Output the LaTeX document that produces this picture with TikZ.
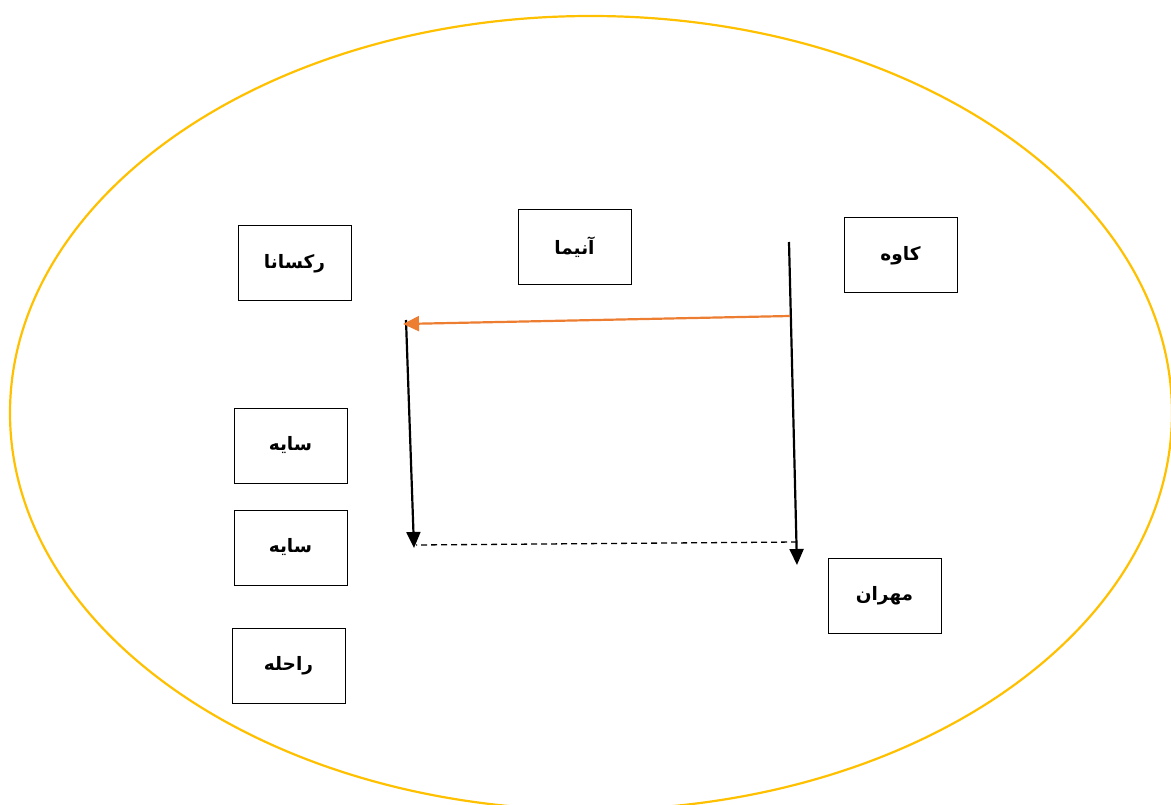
\documentclass[tikz,border=0pt]{standalone}
\usepackage{fontspec}
\usetikzlibrary{arrows.meta}
\TeXXeTstate=1
\newfontfamily\arabicfont[Script=Arabic]{DejaVu Sans}
\definecolor{ringgold}{HTML}{FFC000}
\definecolor{msgorange}{HTML}{ED7D31}
\newcommand{\fa}[1]{{\arabicfont\bfseries\beginR #1\endR}}
\tikzset{
  namebox/.style={draw=black, line width=1pt, minimum width=113pt, minimum height=75pt,
    inner sep=0pt, font=\fontsize{18.5}{22}\selectfont},
  lifeline/.style={draw=black, line width=2.2pt, -{Triangle[length=16pt,width=14pt]}},
  message/.style={draw=msgorange, line width=2.2pt, -{Triangle[length=16pt,width=15pt]}},
  reply/.style={draw=black, line width=1.3pt, dash pattern=on 6pt off 4pt}
}
\begin{document}
\begin{tikzpicture}[x=1pt,y=-1pt]
  \useasboundingbox (0,0) rectangle (1171,805);
  \clip (0,0) rectangle (1171,805);
  % enclosing ellipse
  \draw[ringgold, line width=2.2pt] (591,413) ellipse [x radius=581, y radius=397];

  % participants
  \node[namebox] (roxana) at (294.5,263.5) {\fa{رکسانا}};
  \node[namebox] (anima)  at (574.5,247.5) {\fa{آنیما}};
  \node[namebox] (kaveh)  at (900.5,255.5) {\fa{کاوه}};
  \node[namebox] (saye1)  at (290.5,445.5) {\fa{سایه}};
  \node[namebox] (saye2)  at (290.5,547.5) {\fa{سایه}};
  \node[namebox] (raheleh) at (288.5,665.5) {\fa{راحله}};
  \node[namebox] (mehran) at (884.5,595.5) {\fa{مهران}};

  % message end points
  \coordinate (kTop) at (789,242);
  \coordinate (kEnd) at (797,565);
  \coordinate (kMsg) at (790,316);
  \coordinate (rMsg) at (403,324);
  \coordinate (rTop) at (406,320);
  \coordinate (rEnd) at (414,548);
  \coordinate (kRet) at (797,542);
  \coordinate (rRet) at (416,545);

  \draw[lifeline] (kTop) -- (kEnd);
  \draw[lifeline] (rTop) -- (rEnd);
  \draw[message] (kMsg) -- (rMsg);
  \draw[reply] (kRet) -- (rRet);
\end{tikzpicture}
\end{document}
